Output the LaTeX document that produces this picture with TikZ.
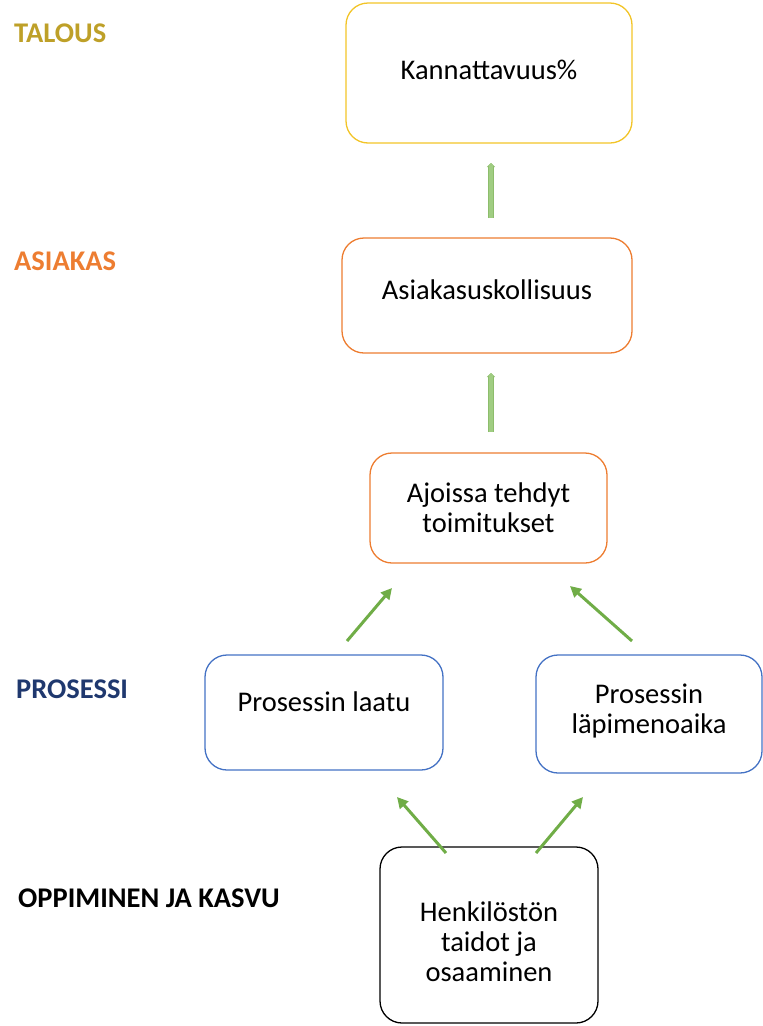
\documentclass[tikz,border=0pt]{standalone}
\usepackage{fontspec}
\setmainfont{Carlito}
\usetikzlibrary{arrows.meta}
\definecolor{cyellow}{RGB}{242,196,40}
\definecolor{corange}{RGB}{237,125,49}
\definecolor{cblue}{RGB}{68,114,196}
\definecolor{cgreen}{RGB}{112,173,71}
\definecolor{clgreen}{RGB}{160,205,130}
\definecolor{tgold}{RGB}{190,160,40}
\definecolor{tnavy}{RGB}{31,56,110}
\newcommand{\shiftup}[2]{\raisebox{#1}[\height][\depth]{\begin{tabular}{@{}c@{}}#2\end{tabular}}}
\tikzset{
  box/.style={draw, line width=1.3pt, rounded corners=22pt, align=center, font=\fontsize{28.5}{30}\selectfont, inner sep=0pt},
  lvl/.style={anchor=west, font=\bfseries\fontsize{28.5}{30}\selectfont, inner sep=0pt},
  varrow/.style={preaction={draw=cgreen!80, line width=5.5pt, -{Triangle[width=8pt,length=4pt]}}, draw=clgreen, line width=3.5pt, -{Triangle[width=5pt,length=3pt]}},
  darrow/.style={draw=cgreen, line width=3pt, -{Triangle[width=11pt,length=11pt]}}
}
\begin{document}
\begin{tikzpicture}[x=1pt,y=-1pt]
\useasboundingbox (0,0) rectangle (763,1026);
\node[box, draw=cyellow, minimum width=286pt, minimum height=140pt] (k) at (489,73) {\shiftup{0pt}{Kannattavuus\%}};
\node[box, draw=corange, minimum width=290pt, minimum height=115pt] (a) at (487,295.5) {\shiftup{2pt}{Asiakasuskollisuus}};
\node[box, draw=corange, minimum width=237pt, minimum height=110pt] (t) at (488.5,508) {\shiftup{-3pt}{Ajoissa tehdyt\\toimitukset}};
\node[box, draw=cblue, minimum width=238pt, minimum height=115pt] (pl) at (324,712.5) {\shiftup{7pt}{Prosessin laatu}};
\node[box, draw=cblue, minimum width=226pt, minimum height=118pt] (pm) at (649,714) {\shiftup{2pt}{Prosessin\\läpimenoaika}};
\node[box, draw=black, minimum width=218pt, minimum height=176pt] (h) at (489,935) {\shiftup{-10pt}{Henkilöstön\\taidot ja\\osaaminen}};

\node[lvl, text=tgold] (l1) at (14,33) {TALOUS};
\node[lvl, text=corange] (l2) at (14,261) {ASIAKAS};
\node[lvl, text=tnavy] (l3) at (16,689) {PROSESSI};
\node[lvl, text=black] (l4) at (18,898) {OPPIMINEN JA KASVU};

\coordinate (v1s) at (491,218); \coordinate (v1e) at (491,163);
\coordinate (v2s) at (491,432); \coordinate (v2e) at (491,373);
\coordinate (d1s) at (347,641); \coordinate (d1e) at (392,588);
\coordinate (d2s) at (632,641); \coordinate (d2e) at (570,586);
\coordinate (d3s) at (446,853); \coordinate (d3e) at (397,797);
\coordinate (d4s) at (536,853); \coordinate (d4e) at (583,797);

\draw[varrow] (v1s) -- (v1e);
\draw[varrow] (v2s) -- (v2e);
\draw[darrow] (d1s) -- (d1e);
\draw[darrow] (d2s) -- (d2e);
\draw[darrow] (d3s) -- (d3e);
\draw[darrow] (d4s) -- (d4e);
\end{tikzpicture}
\end{document}
